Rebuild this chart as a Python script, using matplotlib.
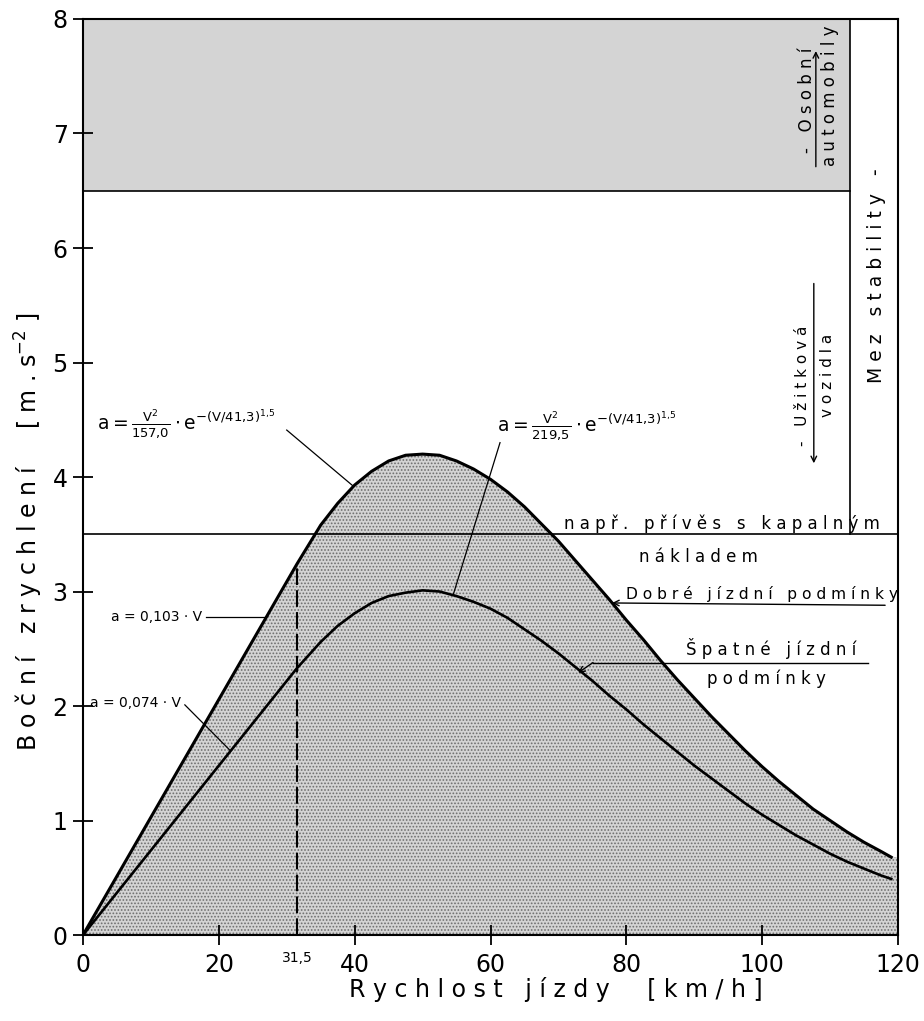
import matplotlib.pyplot as plt
from matplotlib.patches import Rectangle
from matplotlib.transforms import blended_transform_factory

plt.rcParams['font.family'] = ['DejaVu Sans']
plt.rcParams['mathtext.fontset'] = 'dejavusans'
plt.rcParams['hatch.color'] = '#6e6e6e'
plt.rcParams['hatch.linewidth'] = 0.8

# rychlost jizdy [km/h] a bocni zrychleni [m/s2]
v = [0, 31.5, 35, 37.5, 40, 42.5, 45, 47.5, 50, 52.5, 55, 57.5, 60, 62.5, 65,
     67.5, 70, 72.5, 75, 77.5, 80, 82.5, 85, 87.5, 90, 92.5, 95, 97.5, 100,
     102.5, 105, 107.5, 110, 112.5, 115, 117.5, 119]
a_dobre = [0, 3.24, 3.58, 3.77, 3.93, 4.05, 4.14, 4.19, 4.20, 4.19, 4.14, 4.07,
           3.98, 3.87, 3.74, 3.59, 3.44, 3.27, 3.10, 2.93, 2.75, 2.58, 2.40,
           2.23, 2.07, 1.91, 1.76, 1.61, 1.47, 1.34, 1.22, 1.10, 1.00, 0.90,
           0.81, 0.73, 0.68]
a_spatne = [0, 2.33, 2.56, 2.70, 2.81, 2.90, 2.96, 2.99, 3.01, 3.00, 2.96, 2.91,
            2.85, 2.77, 2.67, 2.57, 2.46, 2.34, 2.22, 2.09, 1.97, 1.84, 1.72,
            1.60, 1.48, 1.37, 1.26, 1.15, 1.05, 0.96, 0.87, 0.79, 0.71, 0.64,
            0.58, 0.52, 0.49]

v_zlom = 31.5          # konec primkove casti
a_kapalina = 3.5       # privez s kapalnym nakladem
a_osobni = 6.5         # osobni automobily
v_mez = 113            # mez stability
x_ticks = [0, 20, 40, 60, 80, 100, 120]
y_ticks = [0, 1, 2, 3, 4, 5, 6, 7, 8]


def spaced(s, gap='   '):
    # roztazene pismo jako u technickeho popisu
    return gap.join(' '.join(w) for w in s.split(' '))


fig = plt.figure(figsize=(9.24, 10.21), dpi=100)
ax = fig.add_axes([0.0898, 0.0842, 0.8821, 0.8972])
ax.set_xlim(0, 120)
ax.set_ylim(0, 8)

stip = dict(facecolor='#d4d4d4', edgecolor='none', hatch='.....', linewidth=0)
ax.fill_between(v + [120], a_dobre + [a_dobre[-1]], 0, zorder=1, **stip)
ax.add_patch(Rectangle((0, a_osobni), v_mez, 8 - a_osobni, zorder=1, **stip))

ax.plot(v, a_dobre, color='k', lw=2.2, zorder=4)
ax.plot(v, a_spatne, color='k', lw=1.9, zorder=4)

ax.plot([0, 120], [a_kapalina, a_kapalina], color='k', lw=1.2, zorder=3)
ax.plot([0, v_mez], [a_osobni, a_osobni], color='k', lw=1.2, zorder=3)
ax.plot([v_mez, v_mez], [a_kapalina, 8], color='k', lw=1.2, zorder=3)
ax.plot([v_zlom, v_zlom], [0, a_dobre[1]], color='k', lw=1.5,
        ls=(0, (8, 2.5)), zorder=3)

for s in ax.spines.values():
    s.set_linewidth(1.5)
ax.set_xticks(x_ticks)
ax.set_yticks(y_ticks)
ax.tick_params(axis='both', direction='inout', length=14, width=1.3,
               labelsize=17)
ax.tick_params(axis='x', pad=6)
ax.tick_params(axis='y', pad=4)

tr = blended_transform_factory(ax.transData, ax.transAxes)
ax.text(v_zlom, -0.025, '31,5', transform=tr, ha='center', va='center',
        fontsize=10)

ax.text(0.58, -0.06, spaced('Rychlost jízdy') + '     [ k m / h ]',
        transform=ax.transAxes, ha='center', va='center', fontsize=17)
ax.text(-0.066, 0.44, spaced('Boční zrychlení') + r'     [ m . s$^{-2}$ ]',
        transform=ax.transAxes, ha='center', va='center', rotation=90,
        fontsize=17)

# vzorce s odkazovymi carami
ax.text(2.1, 4.47, r'$\mathrm{a}=\frac{\mathrm{V}^2}{157{,}0}\cdot\mathrm{e}^{-(\mathrm{V}/41{,}3)^{1{,}5}}$',
        ha='left', va='center', fontsize=13.5)
ax.plot([30.0, 39.8], [4.41, 3.92], color='k', lw=0.9)
ax.text(61.0, 4.45, r'$\mathrm{a}=\frac{\mathrm{V}^2}{219{,}5}\cdot\mathrm{e}^{-(\mathrm{V}/41{,}3)^{1{,}5}}$',
        ha='left', va='center', fontsize=13.5)
ax.plot([61.4, 54.5], [4.30, 2.97], color='k', lw=0.9)

ax.text(17.6, 2.78, 'a = 0,103 · V', ha='right', va='center', fontsize=10)
ax.plot([18.1, 27.0], [2.78, 2.78], color='k', lw=0.9)
ax.text(14.4, 2.03, 'a = 0,074 · V', ha='right', va='center', fontsize=10)
ax.plot([15.0, 21.7], [2.01, 1.61], color='k', lw=0.9)

# popisy oblasti
ax.text(94.0, 3.59, spaced('např. přívěs s kapalným'), ha='center',
        va='center', fontsize=12)
ax.text(90.6, 3.30, spaced('nákladem'), ha='center', va='center',
        fontsize=12)
ax.text(99.9, 2.98, spaced('Dobré jízdní podmínky'), ha='center',
        va='center', fontsize=11.2)
ax.annotate('', xy=(77.9, 2.90), xytext=(118.1, 2.88),
            arrowprops=dict(arrowstyle='->', lw=1.0, color='k',
                            shrinkA=0, shrinkB=0))
ax.text(101.3, 2.50, spaced('Špatné jízdní'), ha='center', va='center',
        fontsize=12)
ax.plot([75.1, 115.6], [2.38, 2.38], color='k', lw=1.0)
ax.annotate('', xy=(72.9, 2.29), xytext=(75.1, 2.38),
            arrowprops=dict(arrowstyle='->', lw=1.0, color='k',
                            shrinkA=0, shrinkB=0))
ax.text(100.6, 2.24, spaced('podmínky'), ha='center', va='center',
        fontsize=12)

ax.text(116.9, 5.76, spaced('Mez stability -'), ha='center', va='center',
        rotation=90, fontsize=13.5)
ax.text(106.6, 7.29, spaced('- Osobní'), ha='center', va='center',
        rotation=90, fontsize=12)
ax.text(110.0, 7.33, spaced('automobily'), ha='center', va='center',
        rotation=90, fontsize=12)
ax.annotate('', xy=(107.9, 7.72), xytext=(107.9, 6.71),
            arrowprops=dict(arrowstyle='->', lw=1.0, color='k',
                            shrinkA=0, shrinkB=0))
ax.text(106.0, 4.80, spaced('- Užitková'), ha='center', va='center',
        rotation=90, fontsize=11)
ax.text(109.6, 4.89, spaced('vozidla'), ha='center', va='center',
        rotation=90, fontsize=11)
ax.annotate('', xy=(107.6, 4.12), xytext=(107.6, 5.69),
            arrowprops=dict(arrowstyle='->', lw=1.0, color='k',
                            shrinkA=0, shrinkB=0))

fig.savefig('out.png', dpi=100)
